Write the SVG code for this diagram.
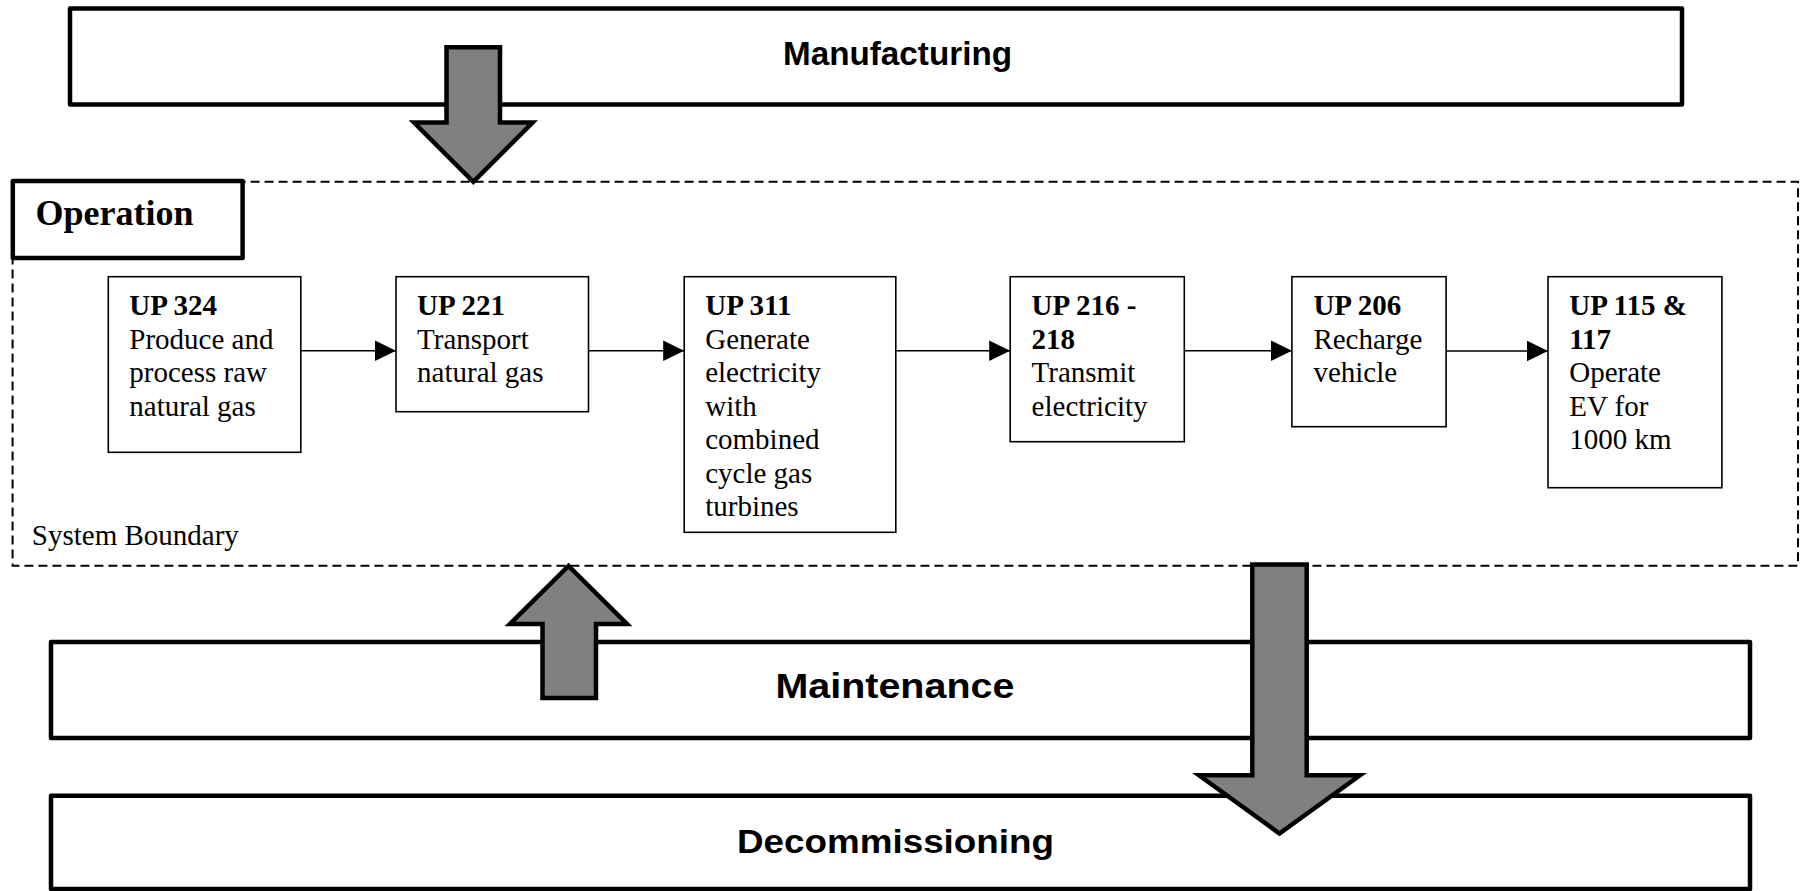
<svg xmlns="http://www.w3.org/2000/svg" width="1803" height="891" viewBox="0 0 1803 891">
  <defs>
    <style>
      .stage { fill: #fff; stroke: #000; stroke-width: 4.5; stroke-linejoin: round; }
      .stage-label { font-family: "Liberation Sans", Arial, sans-serif; font-weight: bold; fill: #000; }
      .bigarrow { fill: #808080; stroke: #000; stroke-width: 4.5; stroke-linejoin: miter; stroke-miterlimit: 10; }
      .proc { fill: #fff; stroke: #000; stroke-width: 1.6; }
      .proc-text { font-family: "Liberation Serif", "Times New Roman", serif; font-size: 29px; fill: #000; }
      .proc-text .h { font-weight: bold; }
      .flow { fill: none; stroke: #000; stroke-width: 1.5; marker-end: url(#head); }
      .boundary { fill: none; stroke: #000; stroke-width: 2; stroke-dasharray: 9 5; }
      .boundary-label { font-family: "Liberation Serif", "Times New Roman", serif; font-size: 29px; fill: #000; }
      .op-label { font-family: "Liberation Serif", "Times New Roman", serif; font-size: 36px; font-weight: bold; fill: #000; }
    </style>
    <marker id="head" markerUnits="userSpaceOnUse" markerWidth="22" markerHeight="22" refX="21" refY="10.3" orient="auto">
      <path d="M0,0 L21,10.3 L0,20.6 Z" fill="#000"/>
    </marker>
  </defs>

  <!-- system boundary around the operation chain -->
  <g id="system-boundary">
    <rect class="boundary" x="12.6" y="181.7" width="1785.4" height="384"/>
    <text class="boundary-label" x="31.8" y="545">System Boundary</text>
  </g>

  <!-- life-cycle stages -->
  <g id="manufacturing">
    <rect class="stage" x="70" y="8.5" width="1612" height="96"/>
    <text class="stage-label" x="783" y="65" font-size="34" textLength="229" lengthAdjust="spacingAndGlyphs">Manufacturing</text>
  </g>

  <g id="operation">
    <rect class="stage" x="12.8" y="181" width="229.8" height="77"/>
    <text class="op-label" x="35.6" y="225">Operation</text>
  </g>

  <g id="maintenance">
    <rect class="stage" x="51" y="642" width="1699" height="96"/>
    <text class="stage-label" x="775.4" y="698.3" font-size="35" textLength="239" lengthAdjust="spacingAndGlyphs">Maintenance</text>
  </g>

  <g id="decommissioning">
    <rect class="stage" x="51" y="795.7" width="1699" height="93.3"/>
    <text class="stage-label" x="737" y="852.7" font-size="34" textLength="317" lengthAdjust="spacingAndGlyphs">Decommissioning</text>
  </g>

  <!-- unit processes -->
  <g id="up324">
    <rect class="proc" x="108.3" y="276.7" width="192.5" height="175.6"/>
    <text class="proc-text" x="129.3" y="315">
      <tspan class="h" x="129.3">UP 324</tspan>
      <tspan x="129.3" dy="33.5">Produce and</tspan>
      <tspan x="129.3" dy="33.5">process raw</tspan>
      <tspan x="129.3" dy="33.5">natural gas</tspan>
    </text>
  </g>

  <g id="up221">
    <rect class="proc" x="396" y="276.7" width="192.5" height="135"/>
    <text class="proc-text" x="417.1" y="315">
      <tspan class="h" x="417.1">UP 221</tspan>
      <tspan x="417.1" dy="33.5">Transport</tspan>
      <tspan x="417.1" dy="33.5">natural gas</tspan>
    </text>
  </g>

  <g id="up311">
    <rect class="proc" x="684.2" y="276.7" width="211.6" height="255.6"/>
    <text class="proc-text" x="705.2" y="315">
      <tspan class="h" x="705.2">UP 311</tspan>
      <tspan x="705.2" dy="33.5">Generate</tspan>
      <tspan x="705.2" dy="33.5">electricity</tspan>
      <tspan x="705.2" dy="33.5">with</tspan>
      <tspan x="705.2" dy="33.5">combined</tspan>
      <tspan x="705.2" dy="33.5">cycle gas</tspan>
      <tspan x="705.2" dy="33.5">turbines</tspan>
    </text>
  </g>

  <g id="up216-218">
    <rect class="proc" x="1010.2" y="276.7" width="174.1" height="165"/>
    <text class="proc-text" x="1031.6" y="315">
      <tspan class="h" x="1031.6">UP 216 -</tspan>
      <tspan class="h" x="1031.6" dy="33.5">218</tspan>
      <tspan x="1031.6" dy="33.5">Transmit</tspan>
      <tspan x="1031.6" dy="33.5">electricity</tspan>
    </text>
  </g>

  <g id="up206">
    <rect class="proc" x="1291.9" y="276.7" width="154.2" height="150"/>
    <text class="proc-text" x="1313.4" y="315">
      <tspan class="h" x="1313.4">UP 206</tspan>
      <tspan x="1313.4" dy="33.5">Recharge</tspan>
      <tspan x="1313.4" dy="33.5">vehicle</tspan>
    </text>
  </g>

  <g id="up115-117">
    <rect class="proc" x="1548" y="276.7" width="173.9" height="211"/>
    <text class="proc-text" x="1569.2" y="315">
      <tspan class="h" x="1569.2">UP 115 &amp;</tspan>
      <tspan class="h" x="1569.2" dy="33.5">117</tspan>
      <tspan x="1569.2" dy="33.5">Operate</tspan>
      <tspan x="1569.2" dy="33.5">EV for</tspan>
      <tspan x="1569.2" dy="33.5">1000 km</tspan>
    </text>
  </g>

  <!-- connectors -->
  <g id="connectors">
    <line class="flow" x1="300.8" y1="350.7" x2="396" y2="350.7"/>
    <line class="flow" x1="588.5" y1="350.7" x2="684.2" y2="350.7"/>
    <line class="flow" x1="895.8" y1="350.7" x2="1010.2" y2="350.7"/>
    <line class="flow" x1="1184.3" y1="350.7" x2="1291.9" y2="350.7"/>
    <line class="flow" x1="1446.1" y1="351" x2="1548" y2="351"/>

    <!-- block arrows between stages -->
    <polygon class="bigarrow" points="446.5,47.3 500,47.3 500,122.5 532.6,122.5 473.3,181.8 414,122.5 446.5,122.5"/>
    <polygon class="bigarrow" points="542.5,698 596,698 596,624 627,624 568.5,566 510,624 542.5,624"/>
    <polygon class="bigarrow" points="1252.3,564.6 1306.7,564.6 1306.7,775.2 1360,775.2 1279.5,833.5 1199,775.2 1252.3,775.2"/>
  </g>
</svg>
